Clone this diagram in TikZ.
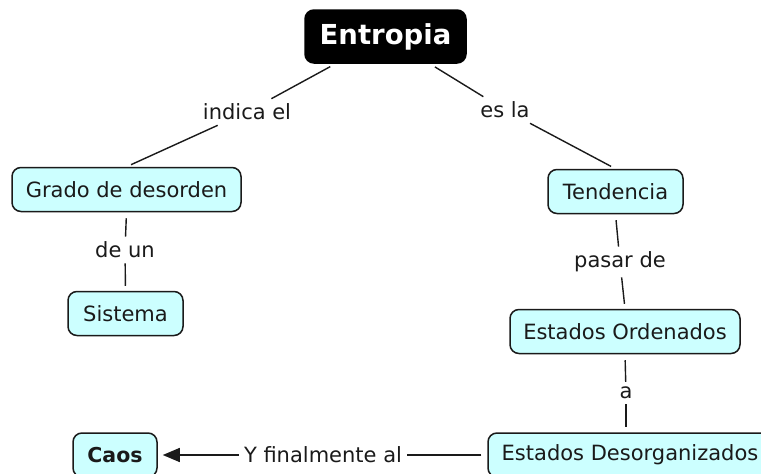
\documentclass[tikz,border=0pt]{standalone}
\usepackage{fontspec}
\setmainfont{DejaVu Sans}
\usetikzlibrary{arrows.meta}
\definecolor{boxfill}{HTML}{CCFFFF}
\definecolor{ink}{HTML}{1A1A1A}
\begin{document}
\begin{tikzpicture}[x=1pt,y=-1pt,
  concept/.style={draw=ink, line width=1.5pt, fill=boxfill, rounded corners=9pt, text=ink, font=\fontsize{21}{25}\selectfont, inner sep=0pt, minimum height=44pt},
  linklabel/.style={text=ink, font=\fontsize{21}{25}\selectfont, inner sep=5pt},
  conn/.style={draw=ink, line width=1.4pt},
  tobox/.style={shorten >=5pt},
  frombox/.style={shorten <=6pt}]
\useasboundingbox (0,0) rectangle (761,474);
\clip (0,0) rectangle (761,474);
% concepts
\node[concept, fill=black, draw=black, text=white, font=\fontsize{27.5}{32}\selectfont\bfseries, minimum width=161pt, minimum height=53pt] (entropia) at (385.5,36.5) {Entropia};
\node[concept, minimum width=229pt] (grado) at (126.5,189.5) {Grado de desorden};
\node[concept, minimum width=115pt] (sistema) at (125.5,313.5) {Sistema};
\node[concept, minimum width=135pt] (tendencia) at (615.5,191.5) {Tendencia};
\node[concept, minimum width=230pt] (ordenados) at (625,331.5) {Estados Ordenados};
\node[concept, minimum width=284pt] (desorg) at (630,455) {Estados Desorganizados};
\node[concept, minimum width=84pt, font=\fontsize{20.5}{24}\selectfont\bfseries] (caos) at (115,455) {Caos};
% linking phrases
\node[linklabel] (indica) at (247,112) {indica el};
\node[linklabel] (esla) at (505,110) {es la};
\node[linklabel] (deun) at (125,250) {de un};
\node[linklabel] (pasar) at (620,262) {pasar de};
\node[linklabel] (a) at (626,393) {a};
\node[linklabel] (yfin) at (323,455) {Y finalmente al};
% connectors
\draw[conn, frombox] (entropia) -- (indica);
\draw[conn, tobox] (indica) -- (grado.north);
\draw[conn, frombox] (entropia) -- (esla);
\draw[conn, tobox] (esla) -- (tendencia.north);
\draw[conn, frombox] (grado.south) -- (deun);
\draw[conn, tobox] (deun) -- (sistema.north);
\draw[conn, frombox] (tendencia.south) -- (pasar);
\draw[conn, tobox] (pasar) -- (ordenados.north);
\draw[conn, frombox] (ordenados.south) -- (a);
\draw[conn, tobox] (a) -- (desorg.north -| a);
\draw[conn, frombox] (desorg.west) -- (yfin);
\draw[conn, tobox, -{Triangle[length=17pt,width=14pt]}] (yfin) -- (caos.east);
\end{tikzpicture}
\end{document}
